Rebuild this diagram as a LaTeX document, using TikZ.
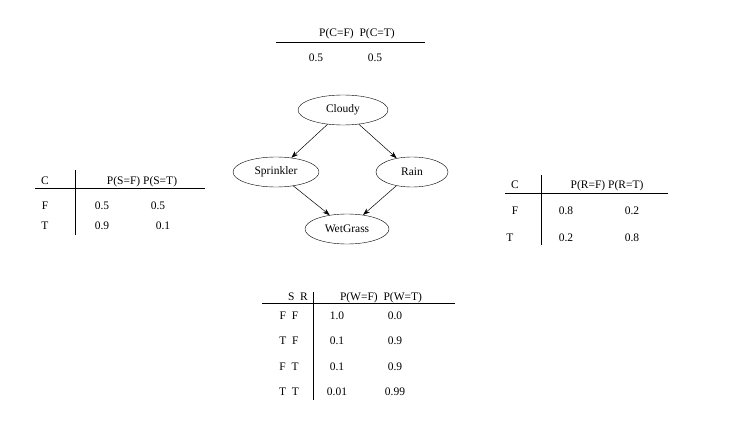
\documentclass[tikz,border=0pt]{standalone}
\usepackage{fontspec}
\setmainfont{Liberation Serif}
\usetikzlibrary{shapes.geometric,arrows.meta}
\begin{document}
\begin{tikzpicture}[x=1pt,y=-1pt,font=\fontsize{11.5}{13}\selectfont,
  nd/.style={draw,ellipse,minimum height=30pt,inner sep=1pt},
  arr/.style={draw,-{Stealth[length=7pt,width=5pt]},line width=0.5pt},
  t/.style={inner sep=0pt,anchor=base},
  rl/.style={line width=0.6pt}]
\useasboundingbox (0,0) rectangle (743,441);
% top table
\node[t] (ch) at (357,37) {P(C=F)\ \ P(C=T)};
\draw[rl] (276,42) -- (425,42);
\node[t] (c1) at (316,62) {0.5};
\node[t] (c2) at (375,62) {0.5};
% graph
\node[nd,minimum width=90pt] (cl) at (343,110) {Cloudy};
\node[nd,minimum width=86pt] (sp) at (276,172) {Sprinkler};
\node[nd,minimum width=72pt] (ra) at (412,172) {Rain};
\node[nd,minimum width=84pt] (wg) at (347,229) {WetGrass};
\draw[arr] (cl) -- (sp);
\draw[arr] (cl) -- (ra);
\draw[arr] (sp) -- (wg);
\draw[arr] (ra) -- (wg);
% left table
\node[t] (lc) at (45,184) {C};
\node[t] (lh) at (142,184) {P(S=F)\ P(S=T)};
\draw[rl] (35,188) -- (205,188);
\draw[rl] (75,170) -- (75,235);
\node[t] at (45,209) {F};
\node[t] at (102,209) {0.5};
\node[t] at (158,209) {0.5};
\node[t] at (45,229) {T};
\node[t] at (102,229) {0.9};
\node[t] at (163,229) {0.1};
% right table
\node[t] (rc) at (515,188) {C};
\node[t] (rh) at (607,188) {P(R=F)\ P(R=T)};
\draw[rl] (505,193) -- (668,193);
\draw[rl] (541,175) -- (541,245);
\node[t] at (515,214) {F};
\node[t] at (566,214) {0.8};
\node[t] at (632,214) {0.2};
\node[t] at (510,241) {T};
\node[t] at (566,241) {0.2};
\node[t] at (632,241) {0.8};
% bottom table
\node[t] (sr) at (298,300) {S\ \ R};
\node[t] (wh) at (381,300) {P(W=F)\ \ P(W=T)};
\draw[rl] (262,303) -- (455,303);
\draw[rl] (313,292) -- (313,400);
\foreach \y/\a/\b/\p/\q in {319/F/F/1.0/0.0, 344/T/F/0.1/0.9, 370/F/T/0.1/0.9, 395/T/T/0.01/0.99}{
  \node[t] at (289,\y) {\a\ \ \b};
  \node[t] at (337,\y) {\p};
  \node[t] at (395,\y) {\q};
}
\end{tikzpicture}
\end{document}
